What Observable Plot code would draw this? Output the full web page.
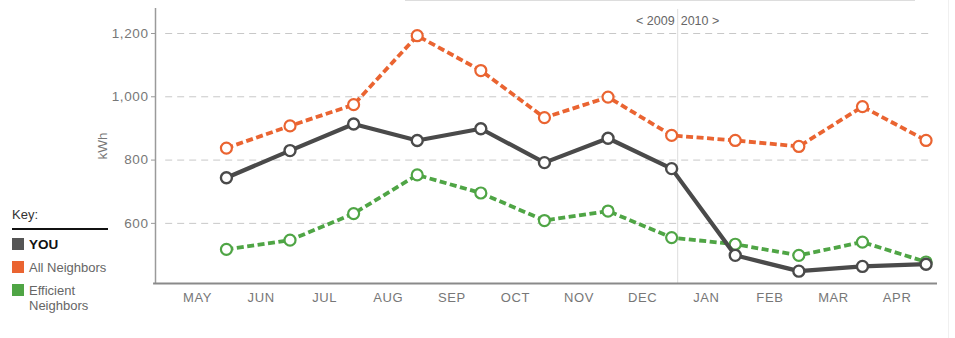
<!DOCTYPE html>
<html>
<head>
<meta charset="utf-8">
<script src="https://cdn.jsdelivr.net/npm/d3@7"></script>
<script src="https://cdn.jsdelivr.net/npm/@observablehq/plot@0.6"></script>
<style>
  html, body { margin: 0; padding: 0; background: #fff; }
  #wrap { position: relative; width: 955px; height: 338px; font-family: "Liberation Sans", Arial, sans-serif; }
  #legend { position: absolute; left: 12px; top: 207px; width: 96px; color: #666; font-size: 13px; }
  #legend .key { color: #333; font-size: 13px; line-height: 15px; padding-bottom: 6px; border-bottom: 2px solid #111; margin-bottom: 7px; }
  #legend .row { display: flex; align-items: flex-start; margin-bottom: 8px; line-height: 15px; }
  #legend .sw { width: 12px; height: 12px; margin-right: 5px; margin-top: 1px; flex: none; }
  #topbox { position: absolute; left: 405px; top: 0; width: 510px; height: 1px; background: #ddd; }
  #rightline { position: absolute; left: 948px; top: 0; width: 1px; height: 338px; background: #f0f0f0; }
  [aria-label="y-axis tick label"] text, [aria-label="x-axis tick label"] text { letter-spacing: 0.6px; }
</style>
</head>
<body>
<div id="wrap">
  <div id="chart"></div>
  <div id="topbox"></div>
  <div id="rightline"></div>
  <div id="legend"></div>
</div>
<script>
const months = ["MAY","JUN","JUL","AUG","SEP","OCT","NOV","DEC","JAN","FEB","MAR","APR"];
const you = [744, 830, 914, 862, 899, 792, 869, 773, 499, 449, 464, 471];
const allNeighbors = [838, 908, 975, 1193, 1083, 934, 999, 878, 862, 843, 969, 862];
const efficientNeighbors = [518, 547, 631, 753, 696, 609, 639, 555, 534, 499, 541, 478];
const yTicks = [600, 800, 1000, 1200];
const seriesNames = ["YOU", "All Neighbors", "Efficient Neighbors"];
const seriesColors = ["#4a4a4a", "#ea6431", "#4fa545"];
const yearLabels = ["< 2009", "2010 >"];

const pointOffset = 0.455;
const rows = (vals) => vals.map((v, i) => ({i: i + pointOffset, v}));
const youData = rows(you), allData = rows(allNeighbors), effData = rows(efficientNeighbors);
const xMin = -0.66, xMax = 11.635, yMin = 410, yMax = 1279;
const divider = 7.55;

const chart = Plot.plot({
  width: 955,
  height: 338,
  marginLeft: 155,
  marginRight: 18,
  marginTop: 8,
  marginBottom: 55,
  style: {fontFamily: "'Liberation Sans', Arial, sans-serif", fontSize: "12px", color: "#777", background: "transparent"},
  x: {domain: [xMin, xMax]},
  y: {domain: [yMin, yMax]},
  marks: [
    Plot.ruleY(yTicks, {x1: -0.5, x2: 11.55, stroke: "#c8c8c8", strokeDasharray: "7,5", strokeWidth: 1}),
    Plot.ruleX([divider], {y1: yMin, y2: yMax - 3, stroke: "#ddd", strokeWidth: 1}),
    Plot.text([yearLabels[0]], {x: [divider], y: [1241], textAnchor: "end", dx: -3, fill: "#666", fontSize: 12.5}),
    Plot.text([yearLabels[1]], {x: [divider], y: [1241], textAnchor: "start", dx: 3, fill: "#666", fontSize: 12.5}),
    Plot.ruleX([xMin], {y1: yMin, y2: yMax, stroke: "#9a9a9a", strokeWidth: 1.5}),
    Plot.ruleY([yMin], {x1: xMin - 0.03, x2: xMax, stroke: "#8a8a8a", strokeWidth: 2}),
    Plot.axisY(yTicks, {tickFormat: d3.format(","), tickSize: 4, tickPadding: 3, stroke: "#999", fill: "#777", label: "kWh", labelAnchor: "center", labelArrow: "none", labelOffset: 58, fontSize: 13.5}),
    Plot.axisX(d3.range(12), {tickFormat: (i) => months[i], tickSize: 0, tickPadding: 9, fill: "#777", label: null, fontSize: 13}),
    Plot.line(allData, {x: "i", y: "v", stroke: seriesColors[1], strokeWidth: 3.8, strokeDasharray: "7,3.5", strokeLinecap: "butt"}),
    Plot.line(effData, {x: "i", y: "v", stroke: seriesColors[2], strokeWidth: 3.8, strokeDasharray: "7,3.5", strokeLinecap: "butt"}),
    Plot.dot(allData, {x: "i", y: "v", r: 5.5, fill: "white", stroke: seriesColors[1], strokeWidth: 2.2}),
    Plot.dot(effData, {x: "i", y: "v", r: 5.5, fill: "white", stroke: seriesColors[2], strokeWidth: 2.2}),
    Plot.line(youData, {x: "i", y: "v", stroke: seriesColors[0], strokeWidth: 4.2}),
    Plot.dot(youData, {x: "i", y: "v", r: 5.5, fill: "white", stroke: seriesColors[0], strokeWidth: 2.4})
  ]
});
document.getElementById("chart").append(chart);

const legend = document.getElementById("legend");
const key = document.createElement("div");
key.className = "key";
key.textContent = "Key:";
legend.append(key);
seriesNames.forEach((name, k) => {
  const row = document.createElement("div");
  row.className = "row";
  const sw = document.createElement("div");
  sw.className = "sw";
  sw.style.background = k === 0 ? "#555" : seriesColors[k];
  const label = document.createElement("div");
  if (k === 0) { label.style.fontWeight = "bold"; label.style.color = "#111"; label.style.fontSize = "13.5px"; }
  label.innerHTML = k === 2 ? "Efficient<br>Neighbors" : name;
  row.append(sw, label);
  legend.append(row);
});
</script>
</body>
</html>
